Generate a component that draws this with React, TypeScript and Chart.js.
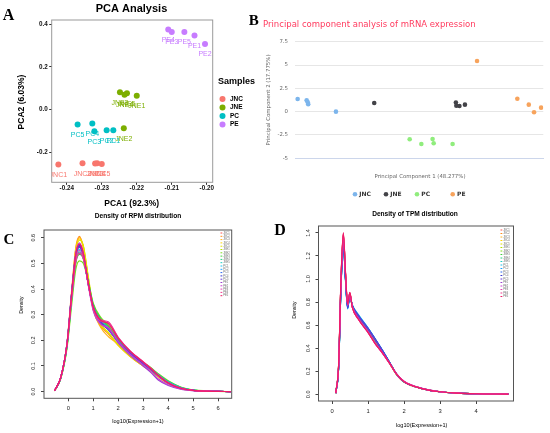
import { useEffect, useRef } from "react"
import { Chart, registerables } from "chart.js"

Chart.register(...registerables)

const SANS = '"Liberation Sans", Arial, sans-serif'
const HC = '"DejaVu Sans", sans-serif'
const SERIF = '"Liberation Serif", "Times New Roman", serif'

// ---- A: PCA Analysis
const pcaGroups = ["JNC", "JNE", "PC", "PE"]
const pcaColors = ["#F8766D", "#7CAE00", "#00BFC4", "#C77CFF"]
const pcaNames = [
  ["JNC1", "JNC2", "JNC3", "JNC4", "JNC5"],
  ["JNE3", "JNE4", "JNE5", "JNE1", "JNE2"],
  ["PC5", "PC4", "PC3", "PC2", "PC1"],
  ["PE4", "PE3", "PE5", "PE1", "PE2"],
]
const pca1 = [
  [-0.2424, -0.2355, -0.2319, -0.2313, -0.23],
  [-0.2248, -0.2235, -0.2228, -0.22, -0.2237],
  [-0.2369, -0.2327, -0.2321, -0.2286, -0.2267],
  [-0.211, -0.21, -0.2064, -0.2035, -0.2005],
]
const pca2 = [
  [-0.257, -0.251, -0.252, -0.251, -0.254],
  [0.081, 0.07, 0.076, 0.065, -0.087],
  [-0.07, -0.065, -0.101, -0.097, -0.097],
  [0.374, 0.363, 0.363, 0.347, 0.307],
]
const pcaXTicks = [-0.24, -0.23, -0.22, -0.21, -0.2]
const pcaYTicks = [-0.2, 0, 0.2, 0.4]

// ---- B: mRNA PCA
const mrnaGroups = ["JNC", "JNE", "PC", "PE"]
const mrnaColors = ["#7cb5ec", "#434348", "#90ed7d", "#f7a35c"]
const mrnaPC1 = [
  [-5.83, -5.42, -5.37, -5.35, -4.09],
  [-2.35, 1.36, 1.38, 1.52, 1.77],
  [-0.74, -0.21, 0.3, 0.35, 1.21],
  [2.32, 4.15, 4.67, 4.91, 5.23],
]
const mrnaPC2 = [
  [1.36, 1.22, 1.0, 0.79, 0.0],
  [0.93, 0.97, 0.64, 0.61, 0.75],
  [-2.96, -3.46, -2.93, -3.39, -3.46],
  [5.43, 1.39, 0.75, -0.07, 0.43],
]
const mrnaXTicks = [-4, -2, 0, 2, 4]
const mrnaYTicks = [-5, -2.5, 0, 2.5, 5, 7.5]

// ---- C / D: density curves
const sampleNames = [
  "JNC1", "JNC2", "JNC3", "JNC4", "JNC5",
  "JNE1", "JNE2", "JNE3", "JNE4", "JNE5",
  "PC1", "PC2", "PC3", "PC4", "PC5",
  "PE1", "PE2", "PE3", "PE4", "PE5",
]
const sampleColors = [
  "#ff5050", "#ff8c1a", "#ffb31a", "#ffd500", "#e0e000",
  "#b3e000", "#80dd1a", "#40d040", "#26d080", "#1ad0c0",
  "#1ac0f0", "#1a9fff", "#2a6af0", "#3a3ad0", "#6a3ad0",
  "#9a40d0", "#c840d0", "#e040b0", "#f03a90", "#f01a66",
]

const rpmX = [-0.55, -0.3, -0.05, 0.15, 0.3, 0.45, 0.6, 0.8, 1.0, 1.3, 1.6, 2.0, 2.5, 3.0, 3.3, 3.6, 4.0, 4.5, 5.0, 5.5, 6.0, 6.5]
const rpmDensity = [
  [0.003, 0.055, 0.185, 0.39, 0.53, 0.57, 0.535, 0.42, 0.33, 0.27, 0.245, 0.195, 0.15, 0.112, 0.09, 0.062, 0.034, 0.013, 0.005, 0.002, 0.001, 0],
  [0.003, 0.055, 0.19, 0.41, 0.56, 0.605, 0.56, 0.43, 0.32, 0.255, 0.225, 0.18, 0.135, 0.1, 0.08, 0.058, 0.032, 0.012, 0.005, 0.002, 0.001, 0],
  [0.003, 0.053, 0.182, 0.4, 0.555, 0.6, 0.565, 0.44, 0.32, 0.25, 0.215, 0.185, 0.14, 0.105, 0.085, 0.06, 0.033, 0.012, 0.005, 0.002, 0.001, 0],
  [0.003, 0.052, 0.178, 0.39, 0.55, 0.595, 0.57, 0.445, 0.325, 0.26, 0.23, 0.18, 0.135, 0.1, 0.08, 0.058, 0.032, 0.012, 0.005, 0.002, 0.001, 0],
  [0.003, 0.051, 0.176, 0.385, 0.54, 0.59, 0.57, 0.45, 0.33, 0.262, 0.232, 0.182, 0.137, 0.102, 0.082, 0.06, 0.033, 0.013, 0.005, 0.002, 0.001, 0],
  [0.003, 0.053, 0.18, 0.39, 0.53, 0.565, 0.54, 0.43, 0.335, 0.275, 0.25, 0.2, 0.15, 0.11, 0.09, 0.066, 0.038, 0.016, 0.006, 0.002, 0.001, 0],
  [0.003, 0.05, 0.168, 0.35, 0.475, 0.51, 0.5, 0.43, 0.345, 0.29, 0.26, 0.205, 0.155, 0.115, 0.094, 0.07, 0.042, 0.018, 0.007, 0.003, 0.001, 0],
  [0.003, 0.052, 0.174, 0.37, 0.5, 0.535, 0.52, 0.43, 0.34, 0.285, 0.255, 0.2, 0.152, 0.113, 0.092, 0.068, 0.04, 0.017, 0.006, 0.002, 0.001, 0],
  [0.003, 0.052, 0.176, 0.375, 0.505, 0.54, 0.52, 0.425, 0.335, 0.28, 0.25, 0.198, 0.15, 0.112, 0.09, 0.067, 0.039, 0.016, 0.006, 0.002, 0.001, 0],
  [0.003, 0.053, 0.178, 0.38, 0.51, 0.545, 0.52, 0.42, 0.33, 0.275, 0.248, 0.197, 0.15, 0.112, 0.09, 0.066, 0.038, 0.016, 0.006, 0.002, 0.001, 0],
  [0.003, 0.054, 0.182, 0.39, 0.52, 0.555, 0.525, 0.42, 0.33, 0.272, 0.245, 0.195, 0.148, 0.11, 0.088, 0.063, 0.035, 0.014, 0.005, 0.002, 0.001, 0],
  [0.003, 0.055, 0.185, 0.395, 0.53, 0.565, 0.53, 0.42, 0.328, 0.27, 0.243, 0.194, 0.147, 0.11, 0.087, 0.062, 0.034, 0.014, 0.005, 0.002, 0.001, 0],
  [0.003, 0.055, 0.186, 0.4, 0.535, 0.57, 0.535, 0.42, 0.327, 0.268, 0.242, 0.193, 0.147, 0.109, 0.087, 0.062, 0.034, 0.013, 0.005, 0.002, 0.001, 0],
  [0.003, 0.055, 0.185, 0.398, 0.532, 0.568, 0.533, 0.42, 0.328, 0.27, 0.244, 0.195, 0.148, 0.11, 0.088, 0.062, 0.034, 0.013, 0.005, 0.002, 0.001, 0],
  [0.003, 0.055, 0.184, 0.395, 0.528, 0.562, 0.53, 0.42, 0.33, 0.272, 0.246, 0.196, 0.149, 0.111, 0.089, 0.063, 0.035, 0.014, 0.005, 0.002, 0.001, 0],
  [0.003, 0.055, 0.185, 0.39, 0.53, 0.575, 0.54, 0.42, 0.32, 0.265, 0.245, 0.19, 0.14, 0.1, 0.075, 0.045, 0.024, 0.01, 0.004, 0.002, 0.001, 0],
  [0.003, 0.056, 0.187, 0.4, 0.54, 0.58, 0.54, 0.415, 0.315, 0.262, 0.25, 0.195, 0.143, 0.104, 0.08, 0.05, 0.027, 0.011, 0.004, 0.002, 0.001, 0],
  [0.003, 0.055, 0.183, 0.385, 0.515, 0.55, 0.525, 0.42, 0.325, 0.275, 0.268, 0.21, 0.155, 0.115, 0.09, 0.062, 0.034, 0.013, 0.005, 0.002, 0.001, 0],
  [0.003, 0.055, 0.181, 0.38, 0.505, 0.54, 0.52, 0.42, 0.328, 0.28, 0.272, 0.212, 0.157, 0.117, 0.092, 0.064, 0.035, 0.014, 0.005, 0.002, 0.001, 0],
  [0.003, 0.055, 0.185, 0.395, 0.535, 0.575, 0.54, 0.425, 0.33, 0.278, 0.265, 0.208, 0.155, 0.115, 0.09, 0.063, 0.034, 0.013, 0.005, 0.002, 0.001, 0],
]
const rpmXTicks = [0, 1, 2, 3, 4, 5, 6]
const rpmYTicks = [0, 0.1, 0.2, 0.3, 0.4, 0.5, 0.6]

const tpmX = [0.1, 0.18, 0.24, 0.31, 0.37, 0.43, 0.49, 0.56, 0.72, 1.0, 1.2, 1.4, 1.6, 1.8, 2.0, 2.5, 3.0, 3.5, 4.0, 4.9]
const tpmDensity = [
  [0.01, 0.25, 0.92, 1.38, 1.04, 0.77, 0.87, 0.76, 0.67, 0.55, 0.46, 0.37, 0.27, 0.17, 0.11, 0.05, 0.022, 0.01, 0.005, 0.002],
  [0.01, 0.25, 0.93, 1.39, 1.05, 0.77, 0.88, 0.76, 0.665, 0.545, 0.455, 0.365, 0.265, 0.165, 0.105, 0.048, 0.021, 0.01, 0.005, 0.002],
  [0.01, 0.26, 0.93, 1.39, 1.05, 0.77, 0.87, 0.755, 0.66, 0.545, 0.455, 0.365, 0.268, 0.168, 0.108, 0.049, 0.022, 0.01, 0.005, 0.002],
  [0.01, 0.25, 0.92, 1.37, 1.04, 0.77, 0.87, 0.76, 0.67, 0.55, 0.46, 0.37, 0.27, 0.17, 0.11, 0.05, 0.022, 0.01, 0.005, 0.002],
  [0.01, 0.25, 0.91, 1.36, 1.03, 0.77, 0.87, 0.76, 0.675, 0.555, 0.465, 0.372, 0.27, 0.168, 0.108, 0.049, 0.022, 0.01, 0.005, 0.002],
  [0.01, 0.24, 0.9, 1.34, 1.02, 0.76, 0.86, 0.765, 0.68, 0.56, 0.47, 0.375, 0.272, 0.17, 0.11, 0.05, 0.022, 0.01, 0.005, 0.002],
  [0.01, 0.24, 0.89, 1.33, 1.01, 0.76, 0.86, 0.765, 0.685, 0.565, 0.472, 0.377, 0.273, 0.17, 0.11, 0.05, 0.022, 0.01, 0.005, 0.002],
  [0.01, 0.24, 0.9, 1.34, 1.02, 0.76, 0.86, 0.765, 0.68, 0.56, 0.468, 0.374, 0.272, 0.17, 0.11, 0.05, 0.022, 0.01, 0.005, 0.002],
  [0.01, 0.24, 0.89, 1.32, 1.0, 0.755, 0.855, 0.77, 0.685, 0.565, 0.472, 0.376, 0.273, 0.171, 0.11, 0.05, 0.022, 0.01, 0.005, 0.002],
  [0.01, 0.23, 0.88, 1.31, 1.0, 0.75, 0.85, 0.77, 0.69, 0.57, 0.475, 0.378, 0.274, 0.171, 0.11, 0.05, 0.022, 0.01, 0.005, 0.002],
  [0.01, 0.23, 0.87, 1.29, 0.99, 0.74, 0.85, 0.775, 0.695, 0.575, 0.48, 0.382, 0.276, 0.172, 0.11, 0.05, 0.022, 0.01, 0.005, 0.002],
  [0.01, 0.23, 0.87, 1.3, 0.99, 0.745, 0.85, 0.77, 0.69, 0.572, 0.478, 0.38, 0.275, 0.171, 0.11, 0.05, 0.022, 0.01, 0.005, 0.002],
  [0.01, 0.23, 0.88, 1.3, 1.0, 0.75, 0.855, 0.77, 0.688, 0.57, 0.476, 0.379, 0.275, 0.171, 0.11, 0.05, 0.022, 0.01, 0.005, 0.002],
  [0.01, 0.24, 0.88, 1.31, 1.0, 0.75, 0.855, 0.77, 0.685, 0.568, 0.475, 0.378, 0.274, 0.17, 0.11, 0.05, 0.022, 0.01, 0.005, 0.002],
  [0.01, 0.24, 0.89, 1.32, 1.01, 0.755, 0.86, 0.768, 0.683, 0.565, 0.472, 0.376, 0.273, 0.17, 0.11, 0.05, 0.022, 0.01, 0.005, 0.002],
  [0.01, 0.25, 0.92, 1.37, 1.04, 0.77, 0.87, 0.76, 0.665, 0.545, 0.445, 0.36, 0.268, 0.172, 0.112, 0.051, 0.022, 0.01, 0.005, 0.002],
  [0.01, 0.25, 0.93, 1.38, 1.05, 0.775, 0.875, 0.758, 0.66, 0.54, 0.44, 0.358, 0.268, 0.173, 0.113, 0.051, 0.022, 0.01, 0.005, 0.002],
  [0.01, 0.26, 0.94, 1.39, 1.05, 0.78, 0.88, 0.755, 0.655, 0.535, 0.438, 0.357, 0.267, 0.172, 0.112, 0.05, 0.022, 0.01, 0.005, 0.002],
  [0.01, 0.26, 0.94, 1.4, 1.06, 0.78, 0.88, 0.755, 0.655, 0.535, 0.437, 0.356, 0.266, 0.171, 0.111, 0.05, 0.022, 0.01, 0.005, 0.002],
  [0.01, 0.26, 0.95, 1.4, 1.06, 0.78, 0.885, 0.755, 0.655, 0.535, 0.438, 0.358, 0.268, 0.17, 0.11, 0.05, 0.022, 0.01, 0.005, 0.002],
]
const tpmXTicks = [0, 1, 2, 3, 4]
const tpmYTicks = [0, 0.2, 0.4, 0.6, 0.8, 1.0, 1.2, 1.4]

// ---- helpers
type Txt = { t: string; x: number; y: number; size: number; bold?: boolean; color?: string; align?: CanvasTextAlign; rot?: boolean; family?: string }

function drawText(ctx: CanvasRenderingContext2D, l: Txt) {
  ctx.save()
  ctx.translate(l.x, l.y)
  if (l.rot) ctx.rotate(-Math.PI / 2)
  ctx.font = `${l.bold ? "bold " : ""}${l.size}px ${l.family || SANS}`
  ctx.fillStyle = l.color || "#000"
  ctx.textAlign = l.align || "center"
  ctx.textBaseline = "middle"
  ctx.fillText(l.t, 0, 0)
  ctx.restore()
}

const textPlugin = (items: Txt[]) => ({
  id: "texts",
  afterDraw(chart: any) {
    items.forEach((l) => drawText(chart.ctx, l))
  },
})

const framePlugin = (color: string) => ({
  id: "frame",
  afterDatasetsDraw(chart: any) {
    const { left, top, right, bottom } = chart.chartArea
    const ctx = chart.ctx
    ctx.save()
    ctx.strokeStyle = color
    ctx.lineWidth = 1
    ctx.strokeRect(left, top, right - left, bottom - top)
    ctx.restore()
  },
})

const fixX = (h: number) => (s: any) => {
  s.height = h
  s.paddingLeft = 0
  s.paddingRight = 0
}
const fixY = (w: number) => (s: any) => {
  s.width = w
  s.paddingTop = 0
  s.paddingBottom = 0
}
const setTicks = (vals: number[]) => (s: any) => {
  s.ticks = vals.map((v) => ({ value: v }))
}

const base = {
  responsive: false,
  animation: false,
  events: [],
}
const noPlugins = { legend: { display: false }, tooltip: { enabled: false }, title: { display: false } }

// ---- configs
function configA(): any {
  const pointLabels = {
    id: "pointLabels",
    afterDatasetsDraw(chart: any) {
      const ctx = chart.ctx
      const ca = chart.chartArea
      ctx.save()
      ctx.beginPath()
      ctx.rect(ca.left, ca.top, ca.right - ca.left, ca.bottom - ca.top)
      ctx.clip()
      chart.data.datasets.forEach((ds: any, di: number) => {
        chart.getDatasetMeta(di).data.forEach((pt: any, i: number) => {
          drawText(ctx, { t: pcaNames[di][i], x: pt.x, y: pt.y + 10.5, size: 7, color: pcaColors[di] })
        })
      })
      ctx.restore()
    },
  }
  const legendA = {
    id: "legendA",
    afterDraw(chart: any) {
      const ctx = chart.ctx
      drawText(ctx, { t: "Samples", x: 218, y: 82, size: 9, bold: true, align: "left" })
      pcaGroups.forEach((g, i) => {
        const y = 99 + i * 8.5
        ctx.beginPath()
        ctx.fillStyle = pcaColors[i]
        ctx.arc(222.5, y, 3, 0, Math.PI * 2)
        ctx.fill()
        drawText(ctx, { t: g, x: 230, y, size: 6.5, bold: true, align: "left" })
      })
    },
  }
  return {
    type: "scatter",
    data: {
      datasets: pcaGroups.map((g, i) => ({
        label: g,
        data: pca1[i].map((x, j) => ({ x, y: pca2[i][j] })),
        backgroundColor: pcaColors[i],
        borderWidth: 0,
        pointRadius: 3,
      })),
    },
    options: {
      ...base,
      layout: { padding: { left: 31.7, right: 337.3, top: 20, bottom: 238.7 } },
      scales: {
        x: {
          type: "linear", min: -0.2443, max: -0.1983,
          afterBuildTicks: setTicks(pcaXTicks), afterFit: fixX(12),
          ticks: { callback: (v: number) => Number(v).toFixed(2), font: { family: SANS, size: 6.3, weight: "bold" }, color: "#111", padding: 0, maxRotation: 0, autoSkip: false },
          grid: { drawOnChartArea: false, tickLength: 2.5, color: "#333" },
          border: { display: false },
        },
        y: {
          type: "linear", min: -0.34, max: 0.419,
          afterBuildTicks: setTicks(pcaYTicks), afterFit: fixY(20),
          ticks: { callback: (v: number) => Number(v).toFixed(1), font: { family: SANS, size: 6.3, weight: "bold" }, color: "#111", padding: 1.5, autoSkip: false },
          grid: { drawOnChartArea: false, tickLength: 2.5, color: "#333" },
          border: { display: false },
        },
      },
      plugins: noPlugins,
    },
    plugins: [
      framePlugin("#9a9a9a"),
      pointLabels,
      legendA,
      textPlugin([
        { t: "A", x: 8.5, y: 15.5, size: 16, bold: true, family: SERIF },
        { t: "PCA Analysis", x: 131.5, y: 8.5, size: 11, bold: true },
        { t: "PCA1 (92.3%)", x: 131.7, y: 203.3, size: 8.5, bold: true },
        { t: "PCA2 (6.03%)", x: 21.7, y: 102, size: 8.5, bold: true, rot: true },
      ]),
    ],
  }
}

function configB(): any {
  const legendB = {
    id: "legendB",
    afterDraw(chart: any) {
      const ctx = chart.ctx
      const xs = [355, 386, 417, 452.7]
      mrnaGroups.forEach((g, i) => {
        ctx.beginPath()
        ctx.fillStyle = mrnaColors[i]
        ctx.arc(xs[i], 194.3, 2.3, 0, Math.PI * 2)
        ctx.fill()
        drawText(ctx, { t: g, x: xs[i] + 4.3, y: 194.3, size: 6, bold: true, align: "left", color: "#333", family: HC })
      })
    },
  }
  return {
    type: "scatter",
    data: {
      datasets: mrnaGroups.map((g, i) => ({
        label: g,
        data: mrnaPC1[i].map((x, j) => ({ x, y: mrnaPC2[i][j] })),
        backgroundColor: mrnaColors[i],
        borderWidth: 0,
        pointRadius: 2.3,
      })),
    },
    options: {
      ...base,
      layout: { padding: { left: 275, right: 6.7, top: 41.7, bottom: 262.7 } },
      scales: {
        x: {
          type: "linear", min: -5.95, max: 5.33,
          afterBuildTicks: setTicks(mrnaXTicks), afterFit: fixX(12),
          ticks: { font: { family: HC, size: 5.4 }, color: "#666", padding: 4.3, maxRotation: 0, autoSkip: false },
          grid: { display: false },
          border: { display: true, color: "#ccd6eb", width: 1 },
        },
        y: {
          type: "linear", min: -5, max: 7.5,
          afterBuildTicks: setTicks(mrnaYTicks), afterFit: fixY(20),
          ticks: { callback: (v: number) => String(v), font: { family: HC, size: 5.4 }, color: "#666", padding: 7, autoSkip: false },
          grid: { drawTicks: false, color: "#e6e6e6" },
          border: { display: false },
        },
      },
      plugins: noPlugins,
    },
    plugins: [
      legendB,
      textPlugin([
        { t: "B", x: 253.7, y: 21, size: 15, bold: true, family: SERIF },
        { t: "Principal component analysis of mRNA expression", x: 263, y: 25, size: 8.5, color: "#ff3a5e", align: "left", family: HC },
        { t: "Principal Component 1 (48.277%)", x: 420, y: 176.7, size: 5.4, color: "#666", family: HC },
        { t: "Principal Component 2 (17.775%)", x: 269, y: 100, size: 5.4, color: "#666", family: HC, rot: true },
      ]),
    ],
  }
}

function densityConfig(opts: {
  xs: number[]; ys: number[][]; xTicks: number[]; yTicks: number[]
  xMin: number; xMax: number; yMin: number; yMax: number
  pad: { left: number; right: number; top: number; bottom: number }
  xPad: number; yLabelX: number; legendX: number; legendY: number; legendStep: number
  texts: Txt[]
}): any {
  const rotTicks = {
    id: "rotTicks",
    afterDraw(chart: any) {
      const s = chart.scales.y
      opts.yTicks.forEach((v) => {
        drawText(chart.ctx, { t: v.toFixed(1), x: opts.yLabelX, y: s.getPixelForValue(v), size: 5.5, color: "#222", rot: true })
      })
    },
  }
  const seriesLegend = {
    id: "seriesLegend",
    afterDraw(chart: any) {
      const ctx = chart.ctx
      sampleNames.forEach((n, i) => {
        const y = opts.legendY + i * opts.legendStep
        ctx.save()
        ctx.strokeStyle = sampleColors[i]
        ctx.lineWidth = 1
        ctx.beginPath()
        ctx.moveTo(opts.legendX, y)
        ctx.lineTo(opts.legendX + 1.8, y)
        ctx.stroke()
        ctx.restore()
        drawText(ctx, { t: n, x: opts.legendX + 2.8, y, size: 2.6, align: "left", color: "#666" })
      })
    },
  }
  return {
    type: "line",
    data: {
      datasets: sampleNames.map((n, i) => ({
        label: n,
        data: opts.xs.map((x, j) => ({ x, y: opts.ys[i][j] })),
        borderColor: sampleColors[i],
        borderWidth: 1.2,
        pointRadius: 0,
        fill: false,
        cubicInterpolationMode: "monotone",
        order: sampleNames.length - 1 - i,
      })),
    },
    options: {
      ...base,
      layout: { padding: opts.pad },
      scales: {
        x: {
          type: "linear", min: opts.xMin, max: opts.xMax,
          afterBuildTicks: setTicks(opts.xTicks), afterFit: fixX(12),
          ticks: { font: { family: SANS, size: 5.8 }, color: "#222", padding: opts.xPad, maxRotation: 0, autoSkip: false },
          grid: { drawOnChartArea: false, tickLength: 3, color: "#444" },
          border: { display: false },
        },
        y: {
          type: "linear", min: opts.yMin, max: opts.yMax,
          afterBuildTicks: setTicks(opts.yTicks), afterFit: fixY(10),
          ticks: { display: false },
          grid: { drawOnChartArea: false, tickLength: 3, color: "#444" },
          border: { display: false },
        },
      },
      plugins: noPlugins,
    },
    plugins: [framePlugin("#555"), rotTicks, seriesLegend, textPlugin(opts.texts)],
  }
}

function configC(): any {
  return densityConfig({
    xs: rpmX, ys: rpmDensity, xTicks: rpmXTicks, yTicks: rpmYTicks,
    xMin: -0.97, xMax: 6.54, yMin: -0.026, yMax: 0.63,
    pad: { left: 34, right: 318.3, top: 230, bottom: 22.7 },
    xPad: 3.5, yLabelX: 33.3, legendX: 220.5, legendY: 233, legendStep: 3.3,
    texts: [
      { t: "C", x: 9, y: 240, size: 15, bold: true, family: SERIF },
      { t: "Density of RPM distribution", x: 138, y: 216, size: 6.6, bold: true },
      { t: "log10(Expression+1)", x: 138, y: 421.7, size: 5.6 },
      { t: "Density", x: 21.7, y: 305, size: 5.2, rot: true },
    ],
  })
}

function configD(): any {
  return densityConfig({
    xs: tpmX, ys: tpmDensity, xTicks: tpmXTicks, yTicks: tpmYTicks,
    xMin: -0.38, xMax: 5.04, yMin: -0.058, yMax: 1.46,
    pad: { left: 308.5, right: 36.5, top: 226, bottom: 20 },
    xPad: 4.2, yLabelX: 308.3, legendX: 500.5, legendY: 230, legendStep: 3.5,
    texts: [
      { t: "D", x: 280, y: 231, size: 16, bold: true, family: SERIF },
      { t: "Density of TPM distribution", x: 415, y: 214, size: 6.6, bold: true },
      { t: "log10(Expression+1)", x: 421.7, y: 425, size: 5.6 },
      { t: "Density", x: 295, y: 310, size: 5.2, rot: true },
    ],
  })
}

const canvasStyle: React.CSSProperties = { position: "absolute", left: 0, top: 0, width: 550, height: 433 }

export default function App() {
  const refA = useRef<HTMLCanvasElement>(null)
  const refB = useRef<HTMLCanvasElement>(null)
  const refC = useRef<HTMLCanvasElement>(null)
  const refD = useRef<HTMLCanvasElement>(null)

  useEffect(() => {
    const charts: Chart[] = []
    const pairs: [HTMLCanvasElement | null, () => any][] = [
      [refA.current, configA],
      [refB.current, configB],
      [refC.current, configC],
      [refD.current, configD],
    ]
    pairs.forEach(([el, cfg]) => {
      if (el) charts.push(new Chart(el, cfg()))
    })
    return () => charts.forEach((c) => c.destroy())
  }, [])

  return (
    <div style={{ position: "absolute", left: 0, top: 0, width: 550, height: 433, background: "#fff", overflow: "hidden" }}>
      <canvas ref={refA} width={550} height={433} style={canvasStyle} />
      <canvas ref={refB} width={550} height={433} style={canvasStyle} />
      <canvas ref={refC} width={550} height={433} style={canvasStyle} />
      <canvas ref={refD} width={550} height={433} style={canvasStyle} />
    </div>
  )
}
